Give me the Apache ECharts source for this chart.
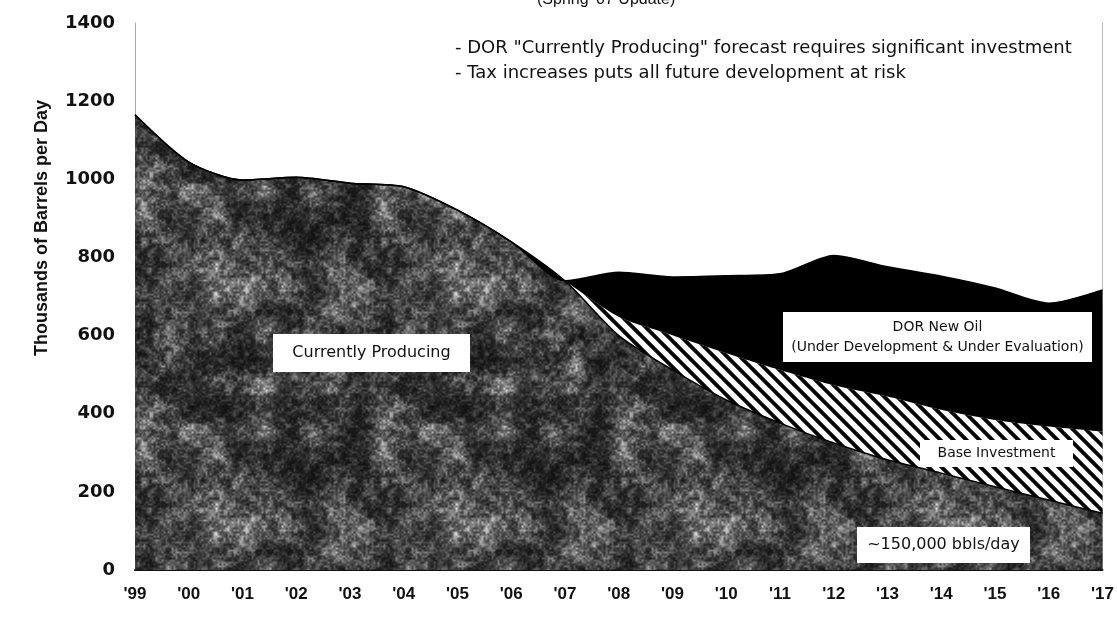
<!DOCTYPE html>
<html>
<head>
<meta charset="utf-8">
<script src="https://cdn.jsdelivr.net/npm/echarts@6/dist/echarts.min.js"></script>
<style>
  html, body { margin: 0; padding: 0; background: #fff; }
  #main { width: 1117px; height: 618px; }
</style>
</head>
<body>
<div id="main"></div>
<script>
// data (thousands of barrels per day)
var years = ["'99", "'00", "'01", "'02", "'03", "'04", "'05", "'06", "'07", "'08",
             "'09", "'10", "'11", "'12", "'13", "'14", "'15", "'16", "'17"];
var currently_producing = [1165, 1044, 998, 1005, 990, 981, 921, 840, 740, 600,
                           512, 435, 376, 325, 282, 248, 213, 179, 145];
var base_investment = [0, 0, 0, 0, 0, 0, 0, 0, 0, 48,
                       89, 120, 136, 148, 162, 162, 171, 188, 209];
var dor_new_oil = [0, 0, 0, 0, 0, 0, 0, 0, 0, 114,
                   149, 198, 246, 332, 332, 342, 338, 316, 363];
var y_min = 0, y_max = 1400, y_step = 200;

// speckled dark fill for the "currently producing" area (style only)
function hash(x, y) {
    var s = Math.sin(x * 12.9898 + y * 78.233) * 43758.5453;
    return s - Math.floor(s);
}
// smooth value noise, wraps every `cells` cells so the tile repeats cleanly
function vnoise(x, y, cell, cells, seed) {
    var gx = x / cell, gy = y / cell;
    var x0 = Math.floor(gx), y0 = Math.floor(gy);
    var fx = gx - x0, fy = gy - y0;
    fx = fx * fx * (3 - 2 * fx); fy = fy * fy * (3 - 2 * fy);
    function h(a, b) { return hash(((a % cells) + cells) % cells + seed, ((b % cells) + cells) % cells + seed * 3); }
    var a = h(x0, y0), b = h(x0 + 1, y0), c = h(x0, y0 + 1), d = h(x0 + 1, y0 + 1);
    return a + (b - a) * fx + (c - a) * fy + (a - b - c + d) * fx * fy;
}
function makeSpeckle() {
    var size = 240;
    var c = document.createElement('canvas');
    c.width = size; c.height = size;
    var ctx = c.getContext('2d');
    var img = ctx.createImageData(size, size);
    for (var y = 0; y < size; y++) {
        for (var x = 0; x < size; x++) {
            var n = vnoise(x, y, 24, 10, 5) * 0.4 + vnoise(x, y, 6, 40, 11) * 0.3 + vnoise(x, y, 2, 120, 23) * 0.3;
            var g = Math.round(16 + 240 * Math.pow(n, 2.3));
            if (g > 255) g = 255;
            var i = (y * size + x) * 4;
            img.data[i] = g; img.data[i + 1] = g; img.data[i + 2] = g; img.data[i + 3] = 255;
        }
    }
    ctx.putImageData(img, 0, 0);
    return c;
}

// black & white diagonal hatch for base investment
function makeHatch() {
    var p = 13;
    var c = document.createElement('canvas');
    c.width = p; c.height = p;
    var ctx = c.getContext('2d');
    ctx.fillStyle = '#000';
    ctx.fillRect(0, 0, p, p);
    ctx.strokeStyle = '#fff';
    ctx.lineWidth = 5.4;
    [-p, 0, p].forEach(function (o) {
        ctx.beginPath();
        ctx.moveTo(-3, -3 + o);
        ctx.lineTo(p + 3, p + 3 + o);
        ctx.stroke();
    });
    return c;
}

// white boxed label (annotation, not data)
function boxLabel(x, y, w, h, text, size) {
    return {
        type: 'group',
        x: x, y: y,
        children: [
            { type: 'rect', z: 100, shape: { x: 0, y: 0, width: w, height: h }, style: { fill: '#fff' } },
            { type: 'text', z: 101, x: w / 2, y: h / 2,
              style: { text: text, font: size + 'px "DejaVu Sans"', fill: '#111', align: 'center', verticalAlign: 'middle', lineHeight: 20 } }
        ]
    };
}

var myChart = echarts.init(document.getElementById('main'));

var option = {
    animation: false,
    backgroundColor: '#fff',
    title: {
        text: "(Spring '07 Update)",
        left: 532,
        top: -13,
        textStyle: { fontSize: 16, fontWeight: 'normal', fontFamily: 'Liberation Sans', color: '#111' }
    },
    grid: { left: 135, right: 14, top: 23, bottom: 48, containLabel: false },
    xAxis: {
        type: 'category',
        data: years,
        boundaryGap: false,
        axisLine: { show: true, lineStyle: { color: '#111', width: 2 } },
        axisTick: { show: false },
        axisLabel: { margin: 16, fontSize: 17, fontWeight: 'bold', fontFamily: 'Liberation Sans', color: '#111' },
        splitLine: { show: false }
    },
    yAxis: [
        {
            type: 'value',
            min: y_min, max: y_max, interval: y_step,
            axisLine: { show: true, lineStyle: { color: '#aaa', width: 1 } },
            axisTick: { show: false },
            splitLine: { show: false },
            axisLabel: {
                margin: 20, fontSize: 18, fontWeight: 'bold', fontFamily: 'DejaVu Sans', color: '#111',
                formatter: function (v) { return String(v); }
            }
        },
        {
            type: 'value',
            position: 'right',
            min: y_min, max: y_max, interval: y_step,
            axisLine: { show: true, lineStyle: { color: '#bbb', width: 1 } },
            axisTick: { show: false },
            splitLine: { show: false },
            axisLabel: { show: false }
        }
    ],
    series: [
        {
            name: 'Currently Producing',
            type: 'line',
            stack: 'total',
            data: currently_producing,
            smooth: 0.25,
            showSymbol: false,
            lineStyle: { width: 1.5, color: '#000' },
            areaStyle: { color: { image: makeSpeckle(), repeat: 'repeat' }, opacity: 1 }
        },
        {
            name: 'Base Investment',
            type: 'line',
            stack: 'total',
            data: base_investment,
            smooth: 0.25,
            showSymbol: false,
            lineStyle: { width: 0 },
            areaStyle: { color: { image: makeHatch(), repeat: 'repeat' }, opacity: 1 }
        },
        {
            name: 'DOR New Oil',
            type: 'line',
            stack: 'total',
            data: dor_new_oil,
            smooth: 0.25,
            showSymbol: false,
            lineStyle: { width: 1.5, color: '#000' },
            areaStyle: { color: '#000', opacity: 1 }
        }
    ],
    graphic: [
        {
            type: 'text', x: 42, y: 228, rotation: Math.PI / 2,
            style: { text: 'Thousands of Barrels per Day', font: 'bold 18px "Liberation Sans"', fill: '#111', align: 'center', verticalAlign: 'middle' }
        },
        {
            type: 'text', x: 455, y: 36,
            style: { text: '- DOR "Currently Producing" forecast requires significant investment\n- Tax increases puts all future development at risk',
                     font: '18px "DejaVu Sans"', fill: '#111', lineHeight: 25 }
        },
        boxLabel(273, 334, 197, 38, 'Currently Producing', 16),
        boxLabel(783, 312, 309, 50, 'DOR New Oil\n(Under Development & Under Evaluation)', 14),
        boxLabel(920, 440, 153, 27, 'Base Investment', 14),
        boxLabel(857, 527, 173, 36, '~150,000 bbls/day', 16)
    ]
};

myChart.setOption(option);
window.addEventListener('resize', function () { myChart.resize(); });
</script>
</body>
</html>
